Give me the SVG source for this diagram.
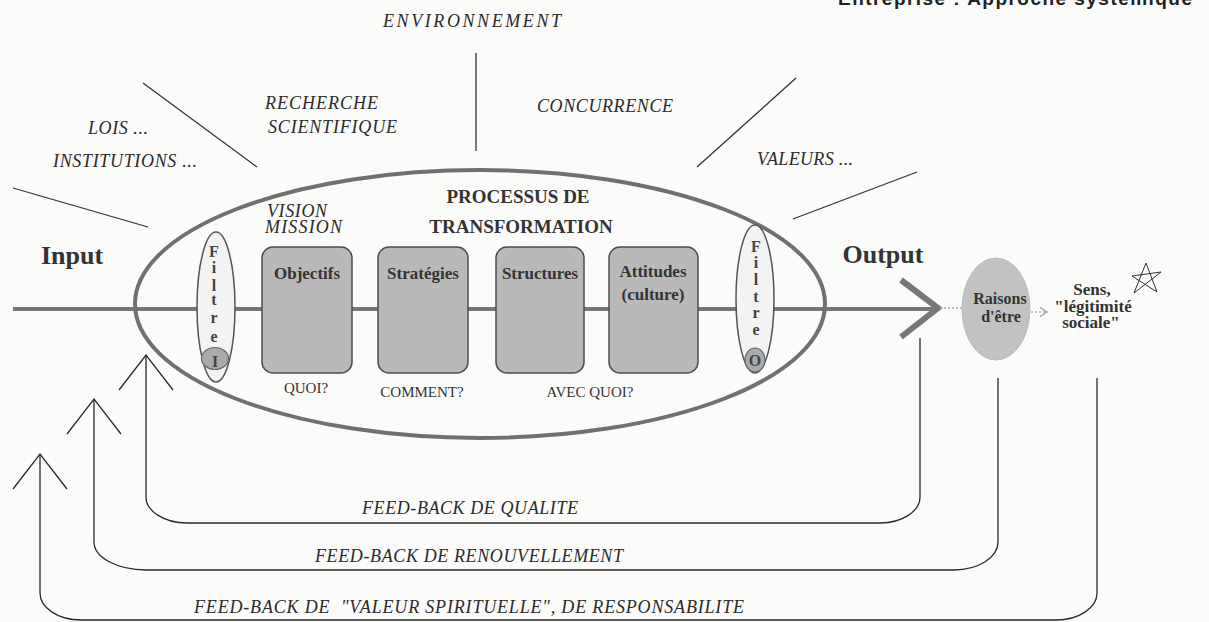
<svg xmlns="http://www.w3.org/2000/svg" width="1209" height="622" viewBox="0 0 1209 622">
<defs>
<style>
.it{font-family:"Liberation Serif","DejaVu Serif",serif;font-style:italic;font-size:18px;fill:#2a2a2a}
.bd{font-family:"Liberation Serif","DejaVu Serif",serif;font-weight:bold;fill:#333;text-anchor:middle}
.rg{font-family:"Liberation Serif","DejaVu Serif",serif;fill:#333;font-size:15px;text-anchor:middle}
.env{stroke:#333;stroke-width:1.3;fill:none}
.fb{stroke:#2a2a2a;stroke-width:1.3;fill:none}
.box{fill:#b9b9b9;stroke:#4d4d4d;stroke-width:1.5}
.flt{fill:#f3f3f3;stroke:#555;stroke-width:1.5}
.fl{font-family:"Liberation Serif","DejaVu Serif",serif;font-weight:bold;font-size:16px;fill:#444;text-anchor:middle}
.gl{stroke:#777;fill:none}
</style>
<marker id="ah" markerUnits="userSpaceOnUse" markerWidth="80" markerHeight="80" viewBox="-40 -40 80 80" refX="0" refY="0" orient="auto"><path d="M-35,-27 L0,0 L-35,27" fill="none" stroke="#2a2a2a" stroke-width="1.3"/></marker>
<marker id="ahs" markerUnits="userSpaceOnUse" markerWidth="20" markerHeight="20" viewBox="-10 -10 20 20" refX="0" refY="0" orient="auto"><path d="M-7,-4.5 L0,0 L-7,4.5" fill="none" stroke="#999" stroke-width="1.2"/></marker>
</defs>
<rect width="1209" height="622" fill="#fbfbfa"/>

<text x="1192" y="5" text-anchor="end" font-family="Liberation Sans, Arial, sans-serif" font-weight="bold" font-size="19" fill="#222" textLength="354">Entreprise : Approche systémique</text>

<g id="environnement">
<text class="it" x="383" y="27" font-size="20" textLength="178">ENVIRONNEMENT</text>
<text class="it" x="88" y="134" textLength="60">LOIS ...</text>
<text class="it" x="53" y="167" textLength="144">INSTITUTIONS ...</text>
<text class="it" x="265" y="109" textLength="113">RECHERCHE</text>
<text class="it" x="268" y="133" textLength="129">SCIENTIFIQUE</text>
<text class="it" x="537" y="112" textLength="136">CONCURRENCE</text>
<text class="it" x="757" y="165" textLength="96">VALEURS ...</text>
<line class="env" x1="476" y1="53" x2="476" y2="151"/>
<line class="env" x1="143" y1="83" x2="257" y2="167"/>
<line class="env" x1="13" y1="188" x2="148" y2="227"/>
<line class="env" x1="796" y1="78" x2="697" y2="167"/>
<line class="env" x1="917" y1="172" x2="793" y2="219"/>
</g>

<g id="connectors">
<line class="gl" x1="13" y1="309" x2="936" y2="309" stroke-width="4"/>
<polyline class="gl" points="901,280 938,308 901,337" stroke-width="6" stroke-linejoin="miter"/>
<line x1="940" y1="308" x2="962" y2="308" stroke="#aaa" stroke-width="1.5" stroke-dasharray="2,2"/>
<line x1="1031" y1="312" x2="1047" y2="312" stroke="#aaa" stroke-width="1.5" stroke-dasharray="2,2" marker-end="url(#ahs)"/>
<path class="fb" d="M920,338 V497 A40,26 0 0 1 880,523 H187 A41,26 0 0 1 146,497 V355" marker-end="url(#ah)"/>
<path class="fb" d="M998,378 V542 A44,28 0 0 1 954,570 H146 A52,28 0 0 1 94,542 V399" marker-end="url(#ah)"/>
<path class="fb" d="M1097,378 V593 A41,27 0 0 1 1056,620 H81 A41,27 0 0 1 40,593 V454" marker-end="url(#ah)"/>
<text class="it" x="362" y="514" textLength="216">FEED-BACK DE QUALITE</text>
<text class="it" x="315" y="562" textLength="308">FEED-BACK DE RENOUVELLEMENT</text>
<text class="it" x="194" y="613" textLength="550" xml:space="preserve">FEED-BACK DE  "VALEUR SPIRITUELLE", DE RESPONSABILITE</text>
</g>

<g id="labels-io">
<text class="bd" x="72" y="264" font-size="26">Input</text>
<text class="bd" x="883" y="263" font-size="26">Output</text>
</g>

<g id="processus">
<ellipse cx="480" cy="304" rx="345" ry="134" fill="none" stroke="#707070" stroke-width="4"/>
<text class="bd" x="518" y="203" font-size="19">PROCESSUS DE</text>
<text class="bd" x="521" y="233" font-size="19">TRANSFORMATION</text>
<text class="it" x="267" y="217" font-size="16" textLength="60">VISION</text>
<text class="it" x="265" y="233" font-size="16" textLength="77">MISSION</text>
</g>

<g id="filtre-i">
<ellipse class="flt" cx="216" cy="307" rx="19" ry="75"/>
<ellipse cx="215" cy="358.5" rx="13.5" ry="11" fill="#aaa" stroke="#666" stroke-width="1.2"/>
<text class="fl" x="214" y="257">F</text>
<text class="fl" x="214" y="273">i</text>
<text class="fl" x="214" y="291">l</text>
<text class="fl" x="214" y="305">t</text>
<text class="fl" x="214" y="323">r</text>
<text class="fl" x="214" y="342">e</text>
<text class="fl" x="215" y="367">I</text>
</g>

<g id="objectifs">
<rect class="box" x="262" y="247" width="90" height="126" rx="11"/>
<text class="bd" x="307" y="279" font-size="17">Objectifs</text>
<text class="rg" x="306" y="393">QUOI?</text>
</g>
<g id="strategies">
<rect class="box" x="378" y="247" width="90" height="126" rx="11"/>
<text class="bd" x="423" y="279" font-size="17">Stratégies</text>
<text class="rg" x="422" y="397">COMMENT?</text>
</g>
<g id="structures">
<rect class="box" x="496" y="247" width="88" height="126" rx="11"/>
<text class="bd" x="540" y="279" font-size="17">Structures</text>
<text class="rg" x="590" y="397">AVEC QUOI?</text>
</g>
<g id="attitudes">
<rect class="box" x="609" y="247" width="89" height="126" rx="11"/>
<text class="bd" x="653" y="277" font-size="17">Attitudes</text>
<text class="bd" x="653" y="300" font-size="17">(culture)</text>
</g>

<g id="filtre-o">
<ellipse class="flt" cx="755" cy="299" rx="19" ry="74"/>
<ellipse cx="755" cy="360" rx="10" ry="12" fill="#aaa" stroke="#666" stroke-width="1.2"/>
<text class="fl" x="756" y="252">F</text>
<text class="fl" x="756" y="268">i</text>
<text class="fl" x="756" y="285">l</text>
<text class="fl" x="756" y="302">t</text>
<text class="fl" x="756" y="318">r</text>
<text class="fl" x="756" y="335">e</text>
<text class="fl" x="755" y="366">O</text>
</g>

<g id="raisons">
<ellipse cx="996" cy="309" rx="34" ry="51" fill="#c2c2c2" stroke="#bbb" stroke-width="1"/>
<text class="bd" x="1000" y="304" font-size="16">Raisons</text>
<text class="bd" x="1001" y="322" font-size="16">d'être</text>
</g>

<g id="sens">
<text class="bd" x="1092" y="295" font-size="17">Sens,</text>
<text class="bd" x="1093" y="312" font-size="17">"légitimité</text>
<text class="bd" x="1091" y="328" font-size="17">sociale"</text>
<path d="M1146,263 L1134,293 L1161,272 L1132,276 L1157,292 Z" fill="none" stroke="#333" stroke-width="1"/>
</g>
</svg>
